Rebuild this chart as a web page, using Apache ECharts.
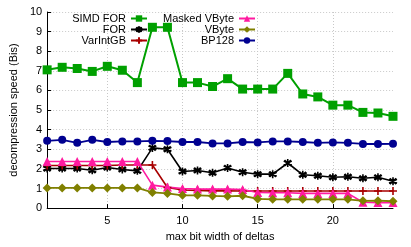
<!DOCTYPE html>
<html><head><meta charset="utf-8">
<script src="https://cdn.jsdelivr.net/npm/echarts@6/dist/echarts.min.js"></script>
<style>html,body{margin:0;padding:0;background:#fff}#c{width:411px;height:247px}</style>
</head><body><div id="c"></div>
<script>
const bitWidths = [1,2,3,4,5,6,7,8,9,10,11,12,13,14,15,16,17,18,19,20,21,22,23,24];
const xTicks = [5,10,15,20];
const simdFor = [7.05,7.18,7.12,6.97,7.23,7.03,6.4,9.22,9.22,6.4,6.4,6.2,6.6,6.07,6.07,6.07,6.87,5.82,5.67,5.25,5.25,4.88,4.85,4.68];
const forVals = [2.02,2.02,2.02,1.93,2.07,1.97,1.9,3.07,3.0,1.87,1.92,1.8,2.05,1.83,1.73,1.73,2.3,1.7,1.65,1.57,1.6,1.52,1.57,1.37];
const varIntGB = [2.17,2.17,2.17,2.17,2.17,2.2,2.2,2.2,1.05,0.92,0.9,0.88,0.88,0.87,0.87,0.87,0.87,0.87,0.87,0.87,0.87,0.87,0.87,0.87];
const maskedVByte = [2.38,2.38,2.38,2.38,2.38,2.38,2.38,1.17,1.07,1.0,0.97,0.97,0.97,0.95,0.8,0.78,0.78,0.75,0.75,0.75,0.75,0.3,0.28,0.28];
const vbyte = [1.03,1.03,1.03,1.03,1.03,1.03,1.03,0.8,0.75,0.65,0.65,0.62,0.6,0.63,0.47,0.45,0.45,0.45,0.45,0.45,0.45,0.37,0.38,0.35];
const bp128 = [3.43,3.48,3.33,3.48,3.37,3.4,3.4,3.43,3.42,3.37,3.37,3.3,3.3,3.37,3.35,3.4,3.4,3.37,3.33,3.35,3.33,3.27,3.27,3.28];

const FONT = "'Liberation Sans', Arial, sans-serif";
const pair = v => bitWidths.map((x,i)=>[x,v[i]]);
const ASTER = 'path://M0,-1L0,1M-0.87,-0.5L0.87,0.5M-0.87,0.5L0.87,-0.5M-0.7,-0.7L0.7,0.7M-0.7,0.7L0.7,-0.7';
const PLUS = 'path://M0,-1L0,1M-1,0L1,0';

function series(name, data, color, symbol, size, lw, stroke){
  return {
    name, type:'line', data: pair(data), symbol, symbolSize:size,
    lineStyle:{color, width:lw},
    itemStyle: stroke ? {color:'rgba(0,0,0,0)', borderColor:color, borderWidth:1.6} : {color, borderWidth:0},
    animation:false, emphasis:{disabled:true}
  };
}
function leg(name, right, top){
  return {data:[name], right, top, align:'right', orient:'vertical', padding:0,
    itemWidth:16, itemHeight:8, selectedMode:false,
    textStyle:{fontFamily:FONT, fontSize:11, color:'#000', padding:[0,0,0,0]}};
}
const chart = echarts.init(document.getElementById('c'), null, {renderer:'canvas'});
chart.setOption({
  backgroundColor:'#fff',
  animation:false,
  grid:{left:43, right:18, top:12, bottom:34.5, containLabel:false},
  legend:[
    leg('SIMD FOR', 263, 13),
    leg('FOR', 263, 24),
    leg('VarIntGB', 263, 35),
    leg('Masked VByte', 155, 13),
    leg('VByte', 155, 24),
    leg('BP128', 155, 35)
  ],
  xAxis:{
    type:'value', min:1, max:24,
    name:'max bit width of deltas', nameLocation:'middle', nameGap:21,
    nameTextStyle:{fontFamily:FONT, fontSize:11, color:'#000'},
    axisLine:{lineStyle:{color:'#000', width:1}},
    axisTick:{inside:true, length:4, customValues:xTicks, lineStyle:{color:'#000'}},
    axisLabel:{customValues:xTicks, fontFamily:FONT, fontSize:11, color:'#000', margin:7},
    splitLine:{show:true, lineStyle:{color:'#c8c8c8', type:[1,2], width:1}}
  },
  yAxis:{
    type:'value', min:0, max:10, interval:1,
    name:'decompression speed (Bis)', nameLocation:'middle', nameGap:25,
    nameTextStyle:{fontFamily:FONT, fontSize:11, color:'#000'},
    axisLine:{show:true, lineStyle:{color:'#000', width:1}},
    axisTick:{show:true, inside:true, length:4, lineStyle:{color:'#000'}},
    axisLabel:{fontFamily:FONT, fontSize:11, color:'#000', margin:5},
    splitLine:{show:true, lineStyle:{color:'#c8c8c8', type:[1,2], width:1}}
  },
  series:[
    series('SIMD FOR', simdFor, '#00a000', 'rect', 9, 2, false),
    series('FOR', forVals, '#000000', ASTER, 8, 1.6, true),
    series('VarIntGB', varIntGB, '#a80000', PLUS, 8, 1.6, true),
    series('Masked VByte', maskedVByte, '#ff1aa0', 'triangle', 9, 1.6, false),
    series('VByte', vbyte, '#808000', 'diamond', 9, 1.8, false),
    series('BP128', bp128, '#000090', 'circle', 8, 1.8, false)
  ]
});
</script></body></html>
